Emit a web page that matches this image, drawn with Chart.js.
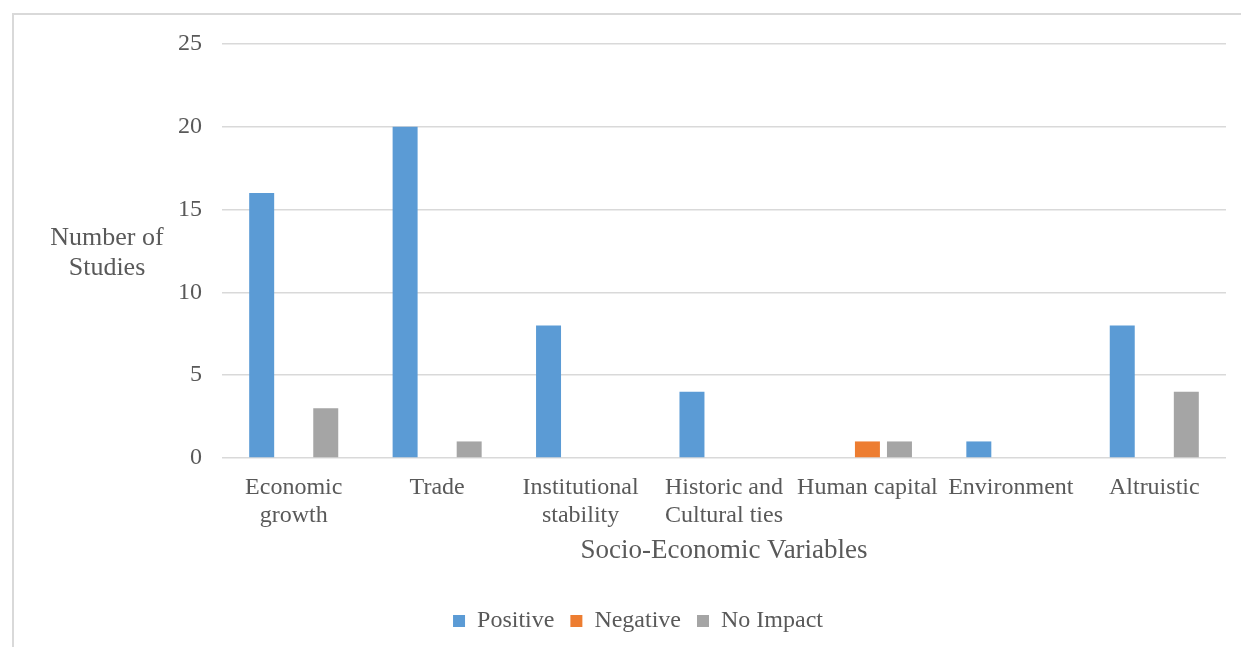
<!DOCTYPE html>
<html>
<head>
<meta charset="utf-8">
<title>Socio-Economic Variables</title>
<script src="https://cdn.jsdelivr.net/npm/chart.js@4.4.1/dist/chart.umd.min.js"></script>
<style>
    html, body { margin: 0; padding: 0; background: #fff; }
    #wrap { position: relative; width: 1241px; height: 647px; }
</style>
</head>
<body>
<div id="wrap"><canvas id="studies-chart" width="1241" height="647"></canvas></div>
<script>
// Data
const categories = [
    ['Economic', 'growth'],
    'Trade',
    ['Institutional', 'stability'],
    ['Historic and', 'Cultural ties'],
    'Human capital',
    'Environment',
    'Altruistic'
];
const positive = [16, 20, 8, 4, 0, 1, 8];
const negative = [0, 0, 0, 0, 1, 0, 0];
const noImpact = [3, 1, 0, 0, 1, 0, 4];
const yTicks = [0, 5, 10, 15, 20, 25];

const TEXT = '#595959';
const GRID = '#d9d9d9';
const FONT = '"Liberation Serif", "Times New Roman", serif';

// Light frame around the whole chart
const framePlugin = {
    id: 'frame',
    beforeDraw(chart) {
        const ctx = chart.ctx;
        ctx.save();
        ctx.strokeStyle = GRID;
        ctx.lineWidth = 2;
        ctx.strokeRect(13, 14, 1400, 800);
        ctx.restore();
    }
};

// Horizontal y-axis title, two lines
const yTitlePlugin = {
    id: 'yTitle',
    afterDraw(chart) {
        const ctx = chart.ctx;
        const mid = (chart.chartArea.top + chart.chartArea.bottom) / 2;
        ctx.save();
        ctx.fillStyle = TEXT;
        ctx.font = '26px ' + FONT;
        ctx.textAlign = 'center';
        ctx.textBaseline = 'middle';
        ctx.fillText('Number of', 107, mid - 13);
        ctx.fillText('Studies', 107, mid + 17);
        ctx.restore();
    }
};

function makeDataset(label, data, color) {
    return {
        label: label,
        data: data,
        backgroundColor: color,
        borderWidth: 0,
        categoryPercentage: 0.67,
        barPercentage: 0.78
    };
}

const chart = new Chart(document.getElementById('studies-chart'), {
    type: 'bar',
    data: {
        labels: categories,
        datasets: [
            makeDataset('Positive', positive, '#5b9bd5'),
            makeDataset('Negative', negative, '#ed7d31'),
            makeDataset('No Impact', noImpact, '#a5a5a5')
        ]
    },
    options: {
        responsive: false,
        animation: false,
        layout: {
            padding: { top: 44, right: 15, bottom: 4, left: 50 }
        },
        plugins: {
            legend: {
                position: 'bottom',
                labels: {
                    color: TEXT,
                    font: { family: FONT, size: 24 },
                    boxWidth: 12,
                    boxHeight: 12,
                    padding: 16
                }
            },
            tooltip: { enabled: false }
        },
        scales: {
            x: {
                grid: { display: false },
                border: { display: false },
                ticks: {
                    color: TEXT,
                    font: { family: FONT, size: 24, lineHeight: 1.17 },
                    padding: 8,
                    maxRotation: 0,
                    autoSkip: false
                },
                title: {
                    display: true,
                    text: 'Socio-Economic Variables',
                    color: TEXT,
                    font: { family: FONT, size: 27 },
                    padding: { top: 4, bottom: 26 }
                },
                afterFit(scale) {
                    scale.height = 135;
                }
            },
            y: {
                min: 0,
                max: 25,
                grid: { color: GRID, lineWidth: 1.5, drawTicks: false },
                border: { display: false },
                afterBuildTicks(scale) {
                    scale.ticks = yTicks.map(v => ({ value: v }));
                },
                ticks: {
                    color: TEXT,
                    font: { family: FONT, size: 24 },
                    padding: 20
                },
                afterFit(scale) {
                    scale.width = 172;
                }
            }
        }
    },
    plugins: [framePlugin, yTitlePlugin]
});
</script>
</body>
</html>
